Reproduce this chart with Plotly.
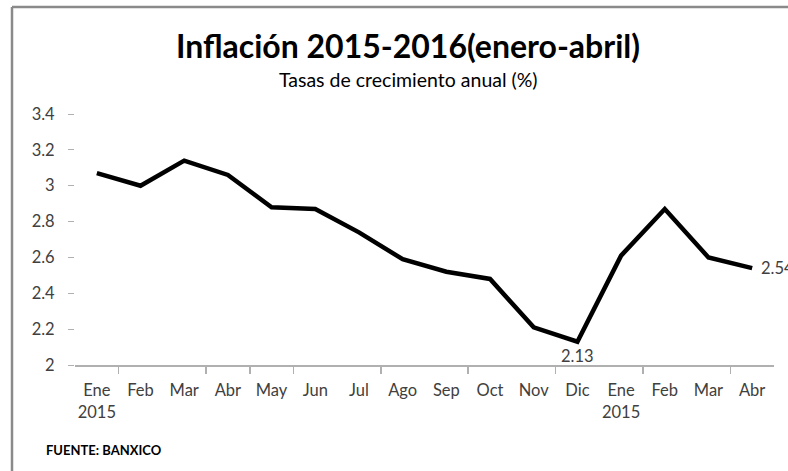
import plotly.graph_objects as go

# ---- data ----
months = ["Ene", "Feb", "Mar", "Abr", "May", "Jun", "Jul", "Ago",
          "Sep", "Oct", "Nov", "Dic", "Ene", "Feb", "Mar", "Abr"]
year_labels = ["2015", "", "", "", "", "", "", "", "", "", "", "", "2015", "", "", ""]
inflacion = [3.07, 3.00, 3.14, 3.06, 2.88, 2.87, 2.74, 2.59,
             2.52, 2.48, 2.21, 2.13, 2.61, 2.87, 2.60, 2.54]
y_ticks = [2, 2.2, 2.4, 2.6, 2.8, 3, 3.2, 3.4]
y_tick_text = ["2", "2.2", "2.4", "2.6", "2.8", "3", "3.2", "3.4"]
minor_ticks = [0.5, 2.5, 3.5, 4.5, 6.5, 8.5, 10.5, 12.5, 14.5]

W, H = 788, 471
ML, MR, MT, MB = 75, 14, 114, 106
PW, PH = W - ML - MR, H - MT - MB

def px(x):
    return (x - ML) / PW

def py(y):
    return (H - MB - y) / PH

FONT = "Lato"
GREY = "#404040"

x_idx = list(range(len(months)))
tick_text = [m if not yl else f"{m}<br>{yl}" for m, yl in zip(months, year_labels)]

fig = go.Figure()
fig.add_trace(go.Scatter(
    x=x_idx, y=inflacion, mode="lines",
    line=dict(color="black", width=4.5),
    showlegend=False, hoverinfo="skip",
))

i_min = 11
i_last = len(inflacion) - 1
data_labels = [
    dict(x=x_idx[i_min], y=inflacion[i_min], text=f"{inflacion[i_min]:.2f}",
         xref="x", yref="y", showarrow=False, xanchor="center", yanchor="top",
         yshift=-2, font=dict(family=FONT, size=16.5, color=GREY)),
    dict(x=x_idx[i_last], y=inflacion[i_last], text=f"{inflacion[i_last]:.2f}",
         xref="x", yref="y", showarrow=False, xanchor="left", yanchor="middle",
         xshift=7, font=dict(family=FONT, size=16.5, color=GREY)),
]

fig.update_layout(
    width=W, height=H,
    margin=dict(l=ML, r=MR, t=MT, b=MB),
    paper_bgcolor="white", plot_bgcolor="white",
    title=dict(text="<b>Inflación 2015-2016(enero-abril)</b>",
               font=dict(family=FONT, size=32, color="black"),
               x=px(408), xanchor="center", xref="paper",
               y=1 - 47 / H, yanchor="middle", yref="container"),
    xaxis=dict(
        range=[-0.5, 15.5], tickmode="array", tickvals=x_idx, ticktext=tick_text,
        ticks="", showgrid=False, zeroline=False,
        showline=True, linecolor="#b0b0b0", linewidth=1.5,
        tickfont=dict(family=FONT, size=16.5, color=GREY),
        ticklabelstandoff=10,
        minor=dict(tickmode="array", tickvals=minor_ticks, ticks="outside",
                   ticklen=7, tickcolor="#b0b0b0", tickwidth=1.5, showgrid=False),
    ),
    yaxis=dict(
        range=[2, 3.4], tickmode="array", tickvals=y_ticks, ticktext=y_tick_text,
        ticks="outside", ticklen=6, tickcolor="#b0b0b0", tickwidth=1,
        showgrid=False, zeroline=False, showline=False,
        tickfont=dict(family=FONT, size=16.5, color=GREY),
        ticklabelstandoff=10,
    ),
    annotations=data_labels + [
        dict(text="Tasas de crecimiento anual (%)", x=px(408), y=py(80),
             xref="paper", yref="paper", showarrow=False,
             xanchor="center", yanchor="middle",
             font=dict(family=FONT, size=19.5, color="black")),
        dict(text="<b>FUENTE: BANXICO</b>", x=px(44), y=py(450),
             xref="paper", yref="paper", showarrow=False,
             xanchor="left", yanchor="middle",
             font=dict(family=FONT, size=13, color="black")),
    ],
    shapes=[
        dict(type="line", xref="paper", yref="paper",
             x0=px(12), x1=px(800), y0=py(7), y1=py(7),
             line=dict(color="#8a8a8a", width=2.5)),
        dict(type="line", xref="paper", yref="paper",
             x0=px(12), x1=px(12), y0=py(7), y1=py(480),
             line=dict(color="#8a8a8a", width=2.5)),
    ],
)

fig.write_html("out.html",
               config={"displayModeBar": False, "staticPlot": True},
               post_script="document.body.style.margin='0';document.body.style.overflow='hidden';")
